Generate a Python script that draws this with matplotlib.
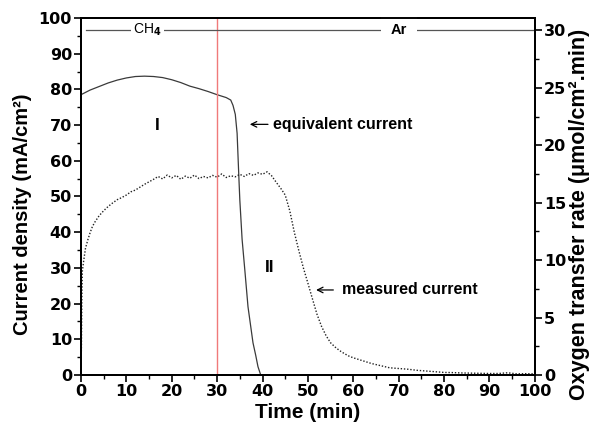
import numpy as np
import matplotlib.pyplot as plt
from matplotlib.ticker import MultipleLocator

plt.rcParams['font.family'] = ['Liberation Sans', 'DejaVu Sans']
plt.rcParams['font.weight'] = 'bold'
plt.rcParams['axes.labelweight'] = 'bold'

# equivalent current (mA/cm2) vs time (min)
t_equiv = [0, 2, 4, 6, 8, 10, 12, 14, 16, 18, 20, 22, 24, 26, 28, 30, 31, 32,
           33, 33.5, 34, 34.4, 34.8, 35.0, 35.5, 36.1, 36.8, 37.9, 38.5, 39.0, 39.6]
i_equiv = [78.5, 79.8, 80.8, 81.8, 82.6, 83.2, 83.6, 83.7, 83.6, 83.3, 82.7, 81.9,
           80.9, 80.2, 79.4, 78.5, 78.1, 77.7, 77.0, 75.5, 73.0, 67.7, 55.0, 49.0,
           38.0, 29.4, 19.1, 9.0, 5.5, 2.3, 0.0]

# measured current (mA/cm2) vs time (min)
t_meas = [0, 0.1, 0.2, 0.3, 0.6, 1, 1.5, 2, 2.5, 3, 4, 5, 6, 7, 8, 9, 10, 11, 12,
          13, 14, 15, 16, 17, 18, 19, 20, 21, 22, 23, 24, 25, 26, 27, 28, 29, 30,
          31, 32, 33, 34, 35, 36, 37, 38, 39, 40, 41, 42, 43, 44, 45, 46, 47, 48,
          49, 50, 51, 52, 53, 54, 55, 56, 57, 58, 59, 60, 61, 62, 64, 66, 68, 70,
          72, 74, 76, 78, 80, 82, 84, 86, 88, 90, 92, 94, 96, 98, 100]
i_meas = [0.3, 8.0, 22.0, 29.0, 32.0, 35.5, 37.8, 39.8, 41.5, 42.7, 44.6, 46.0,
          47.2, 48.2, 49.1, 49.7, 50.4, 51.3, 51.8, 52.6, 53.4, 54.1, 54.8, 55.6,
          54.9, 56.0, 55.2, 55.9, 54.8, 55.7, 55.1, 56.0, 55.0, 55.6, 55.2, 55.9,
          55.4, 56.3, 55.3, 55.8, 55.5, 56.2, 55.6, 56.4, 55.9, 56.6, 56.2, 56.9,
          55.8, 54.0, 52.3, 50.4, 46.0, 40.0, 34.8, 30.0, 25.7, 21.3, 17.0, 13.6,
          11.0, 9.0, 7.8, 6.8, 6.0, 5.3, 4.8, 4.4, 4.0, 3.2, 2.6, 2.0, 1.8, 1.6,
          1.3, 1.1, 0.9, 0.7, 0.65, 0.55, 0.5, 0.45, 0.4, 0.4, 0.6, 0.3, 0.35, 0.3]

fig = plt.figure(figsize=(5.91, 4.28), dpi=100)
ax = fig.add_axes([0.137, 0.124, 0.768, 0.834])

ax.plot(t_equiv, i_equiv, color='#3a3a3a', lw=0.9)
ax.plot(t_meas, i_meas, color='#222222', lw=1.0, ls=(0, (1, 1.3)))
ax.axvline(30, color='#f07a7a', lw=1.0)

# gas atmosphere bar
ax.plot([1, 100], [96.7, 96.7], color='#555555', lw=0.9)
ax.text(14.6, 96.7, 'CH$_4$', ha='center', va='center', fontsize=10,
        fontweight='normal', bbox=dict(fc='white', ec='none', pad=1.5))
ax.text(70, 96.7, 'Ar', ha='center', va='center', fontsize=10.5,
        bbox=dict(fc='white', ec='none', pad=7))

ax.text(16.7, 70, 'I', ha='center', va='center', fontsize=12.5)
ax.text(41.6, 30, 'II', ha='center', va='center', fontsize=12.5)

arrow = dict(arrowstyle='->', color='black', lw=0.9, shrinkA=0, shrinkB=0)
ax.annotate('', xy=(37.2, 70.2), xytext=(41.2, 70.2), arrowprops=arrow)
ax.text(42.3, 70.2, 'equivalent current', ha='left', va='center', fontsize=11.5)
ax.annotate('', xy=(51.8, 23.8), xytext=(55.6, 23.8), arrowprops=arrow)
ax.text(57.5, 23.8, 'measured current', ha='left', va='center', fontsize=11.5)

ax.set_xlim(0, 100)
ax.set_ylim(0, 100)
ax.xaxis.set_major_locator(MultipleLocator(10))
ax.xaxis.set_minor_locator(MultipleLocator(5))
ax.yaxis.set_major_locator(MultipleLocator(10))
ax.yaxis.set_minor_locator(MultipleLocator(5))
ax.set_xlabel('Time (min)', fontsize=15, labelpad=3)
ax.set_ylabel('Current density (mA/cm\u00b2)', fontsize=14.5)
ax.yaxis.set_label_coords(-0.108, 0.45)

ax2 = ax.twinx()
ax2.set_ylim(0, 31.09)
ax2.yaxis.set_major_locator(MultipleLocator(5))
ax2.yaxis.set_minor_locator(MultipleLocator(2.5))
ax2.set_ylabel('Oxygen transfer rate (\u03bcmol/cm\u00b2.min)', fontsize=15.5)
ax2.yaxis.set_label_coords(1.076, 0.45)

for a in (ax, ax2):
    for s in a.spines.values():
        s.set_linewidth(1.4)
    a.tick_params(which='major', direction='out', length=5, width=1.2, labelsize=11.5, pad=1.5)
    a.tick_params(which='minor', direction='out', length=3, width=1.0)
    for lab in a.get_xticklabels() + a.get_yticklabels():
        lab.set_family('DejaVu Sans')
        lab.set_weight('bold')
ax.tick_params(top=False, right=False, which='both')

fig.savefig('out.png', dpi=100)
